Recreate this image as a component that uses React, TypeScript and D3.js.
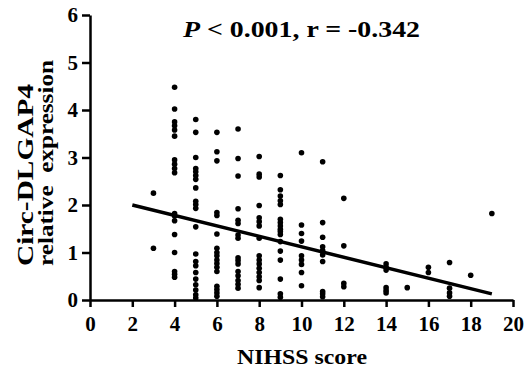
import { useEffect, useRef } from 'react';
import * as d3 from 'd3';

// NIHSS score columns and the circ-DLGAP4 values read for each
const scores = [3, 4, 5, 6, 7, 8, 9, 10, 11, 12, 14, 15, 16, 17, 18, 19];
const expression: number[][] = [
  [2.25, 1.09],
  [4.48, 4.02, 3.75, 3.67, 3.58, 3.45, 2.95, 2.86, 2.77, 2.68, 1.82, 1.77, 1.67, 1.38, 1.0, 0.6, 0.54, 0.48],
  [3.8, 3.53, 3.0, 2.77, 2.7, 2.62, 2.54, 2.36, 2.08, 2.01, 1.93, 1.54, 0.97, 0.81, 0.72, 0.58, 0.44, 0.32, 0.21, 0.11, 0.04],
  [3.53, 3.12, 2.93, 1.84, 1.78, 1.39, 1.09, 1.0, 0.93, 0.84, 0.77, 0.69, 0.6, 0.29, 0.22, 0.15, 0.08],
  [3.6, 2.98, 2.61, 1.92, 1.68, 1.61, 1.37, 1.3, 0.89, 0.83, 0.76, 0.6, 0.51, 0.41, 0.33, 0.25],
  [3.02, 2.65, 2.59, 1.99, 1.73, 1.65, 1.56, 1.3, 0.93, 0.84, 0.76, 0.67, 0.58, 0.49, 0.41, 0.26],
  [2.62, 2.32, 2.19, 2.09, 2.01, 1.7, 1.63, 1.56, 1.49, 1.44, 1.38, 1.23, 1.03, 0.84, 0.44, 0.13, 0.06],
  [3.1, 1.58, 1.4, 1.24, 0.93, 0.84, 0.75, 0.58, 0.3],
  [2.91, 1.63, 1.32, 1.12, 1.04, 0.95, 0.81, 0.18, 0.13, 0.07],
  [2.14, 1.14, 0.35, 0.28],
  [0.76, 0.69, 0.63, 0.26, 0.2, 0.15],
  [0.26],
  [0.69, 0.58],
  [0.79, 0.25, 0.15, 0.08],
  [0.52],
  [1.82],
];

// fitted regression line end points
const fitX = [2, 19];
const fitY = [2.0, 0.13];

const xTicks = [0, 2, 4, 6, 8, 10, 12, 14, 16, 18, 20];
const yTicks = [0, 1, 2, 3, 4, 5, 6];

const FONT = "'Liberation Serif', 'Times New Roman', serif";

const App = () => {
  const svgRef = useRef<SVGSVGElement>(null);

  useEffect(() => {
    const svg = d3.select(svgRef.current);
    svg.selectAll('*').remove();

    const x = d3.scaleLinear().domain([0, 20]).range([90, 513]);
    const y = d3.scaleLinear().domain([0, 6]).range([300, 15]);

    const points = scores.flatMap((s, i) => expression[i].map(v => ({ s, v })));

    // Points
    svg.append('g')
      .selectAll('circle')
      .data(points)
      .enter().append('circle')
      .attr('cx', d => x(d.s))
      .attr('cy', d => y(d.v))
      .attr('r', 2.8)
      .attr('fill', '#000');

    // Regression line
    const line = d3.line<number>()
      .x(d => x(d))
      .y((d, i) => y(fitY[i]));
    svg.append('path')
      .attr('d', line(fitX))
      .attr('stroke', '#000')
      .attr('stroke-width', 3.5)
      .attr('fill', 'none');

    // X axis
    const xAxis = svg.append('g')
      .attr('transform', `translate(0,${y(0)})`)
      .call(d3.axisBottom(x).tickValues(xTicks).tickFormat(d3.format('d')).tickSize(7).tickSizeOuter(0).tickPadding(9));

    // Y axis
    const yAxis = svg.append('g')
      .attr('transform', `translate(${x(0)},0)`)
      .call(d3.axisLeft(y).tickValues(yTicks).tickFormat(d3.format('d')).tickSize(8).tickSizeOuter(0).tickPadding(4));

    [xAxis, yAxis].forEach(a => {
      a.attr('font-family', null).attr('font-size', null);
      a.select('.domain').attr('stroke', '#000').attr('stroke-width', 2.5);
      a.selectAll('.tick line').attr('stroke', '#000').attr('stroke-width', 2.5);
      a.selectAll('.tick text')
        .attr('fill', '#000')
        .attr('font-weight', 'bold')
        .attr('font-size', 21);
    });

    // Title
    const title = svg.append('text')
      .attr('x', 183)
      .attr('y', 37)
      .attr('textLength', 237)
      .attr('lengthAdjust', 'spacingAndGlyphs')
      .attr('font-weight', 'bold')
      .attr('font-size', 23);
    title.append('tspan').attr('font-style', 'italic').text('P');
    title.append('tspan').text(' < 0.001, r = -0.342');

    // X axis title
    svg.append('text')
      .attr('x', 302)
      .attr('y', 364)
      .attr('text-anchor', 'middle')
      .attr('textLength', 130)
      .attr('lengthAdjust', 'spacingAndGlyphs')
      .attr('font-weight', 'bold')
      .attr('font-size', 22)
      .text('NIHSS score');

    // Y axis title, two lines
    const yTitle = [
      { text: 'Circ-DLGAP4', x: 33, len: 182, size: 24 },
      { text: 'relative  expression', x: 53, len: 206, size: 22 },
    ];
    svg.selectAll('.ytitle')
      .data(yTitle)
      .enter().append('text')
      .attr('class', 'ytitle')
      .attr('transform', d => `translate(${d.x},266) rotate(-90)`)
      .attr('textLength', d => d.len)
      .attr('lengthAdjust', 'spacingAndGlyphs')
      .attr('font-weight', 'bold')
      .attr('font-size', d => d.size)
      .style('white-space', 'pre')
      .text(d => d.text);
  }, []);

  return (
    <svg
      ref={svgRef}
      width={526}
      height={370}
      style={{ position: 'absolute', left: 0, top: 0, background: '#fff', fontFamily: FONT }}
    />
  );
};

export default App;
